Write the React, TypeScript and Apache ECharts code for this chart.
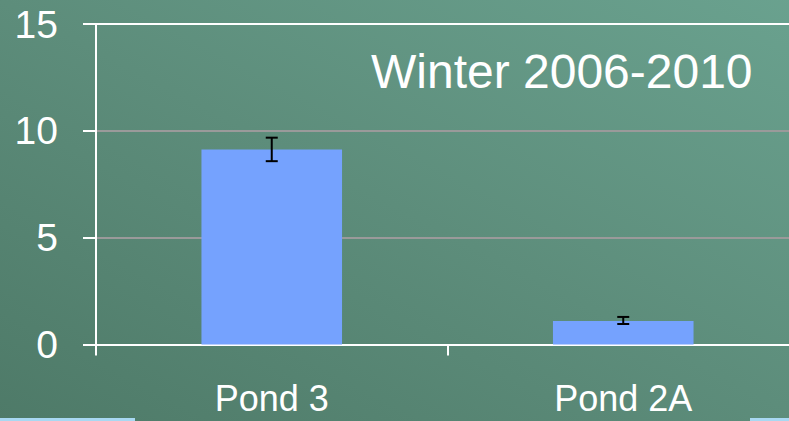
import React, { useEffect, useRef } from "react";
import * as echarts from "echarts";

const categories = ["Pond 3", "Pond 2A"];
const values = [9.13, 1.1];
const errLow = [8.58, 0.96];
const errHigh = [9.68, 1.29];
const yTicks = [0, 5, 10, 15];
const titleText = "Winter 2006-2010";

export default function App() {
  const ref = useRef<HTMLDivElement>(null);
  useEffect(() => {
    const chart = echarts.init(ref.current!, null, { renderer: "svg" });
    const font = "'Liberation Sans', Arial, sans-serif";
    chart.setOption({
      animation: false,
      backgroundColor: new echarts.graphic.LinearGradient(0, 1, 1, 0, [
        { offset: 0, color: "#4e7a68" },
        { offset: 0.5, color: "#5d8d7b" },
        { offset: 1, color: "#6aa28f" },
      ]),
      grid: { left: 96, right: 11, top: 24, bottom: 76.5, containLabel: false },
      xAxis: {
        type: "category",
        data: categories,
        axisLine: { show: true, lineStyle: { color: "#ffffff", width: 2 } },
        axisTick: { show: true, length: 11, lineStyle: { color: "#ffffff", width: 2 } },
        axisLabel: { color: "#ffffff", fontSize: 36, fontFamily: font, margin: 36 },
        splitLine: { show: false },
      },
      yAxis: {
        type: "value",
        min: yTicks[0],
        max: yTicks[yTicks.length - 1],
        interval: 5,
        axisLine: { show: true, lineStyle: { color: "#ffffff", width: 2 } },
        axisTick: { show: true, length: 13, lineStyle: { color: "#ffffff", width: 2 } },
        axisLabel: { color: "#ffffff", fontSize: 39, fontFamily: font, margin: 38 },
        splitLine: {
          show: true,
          lineStyle: { color: ["rgba(0,0,0,0)", "#9a9a9a", "#9a9a9a", "#ffffff"], width: 2 },
        },
      },
      series: [
        {
          type: "bar",
          data: values,
          barWidth: "40%",
          itemStyle: { color: "#75a2fe" },
        },
        {
          type: "custom",
          data: categories.map((_, i) => [i, errLow[i], errHigh[i]]),
          renderItem: (params: any, api: any) => {
            const x = api.value(0);
            const lo = api.coord([x, api.value(1)]);
            const hi = api.coord([x, api.value(2)]);
            const hw = 6;
            const style = { stroke: "#000000", lineWidth: 2 };
            return {
              type: "group",
              children: [
                { type: "line", shape: { x1: lo[0], y1: lo[1], x2: hi[0], y2: hi[1] }, style },
                { type: "line", shape: { x1: lo[0] - hw, y1: lo[1], x2: lo[0] + hw, y2: lo[1] }, style },
                { type: "line", shape: { x1: hi[0] - hw, y1: hi[1], x2: hi[0] + hw, y2: hi[1] }, style },
              ],
            };
          },
          z: 5,
        },
      ],
      graphic: [
        {
          type: "text",
          left: 371,
          top: 47,
          style: { text: titleText, fill: "#ffffff", fontSize: 48, fontFamily: font },
        },
        { type: "rect", shape: { x: 0, y: 418, width: 135, height: 3 }, style: { fill: "#a8d8f2" } },
        { type: "rect", shape: { x: 750, y: 418, width: 39, height: 3 }, style: { fill: "#a8d8f2" } },
      ],
    });
    return () => chart.dispose();
  }, []);
  return (
    <div style={{ width: 789, height: 421, position: "absolute", left: 0, top: 0, overflow: "hidden" }}>
      <div ref={ref} style={{ width: 810, height: 421 }} />
    </div>
  );
}
